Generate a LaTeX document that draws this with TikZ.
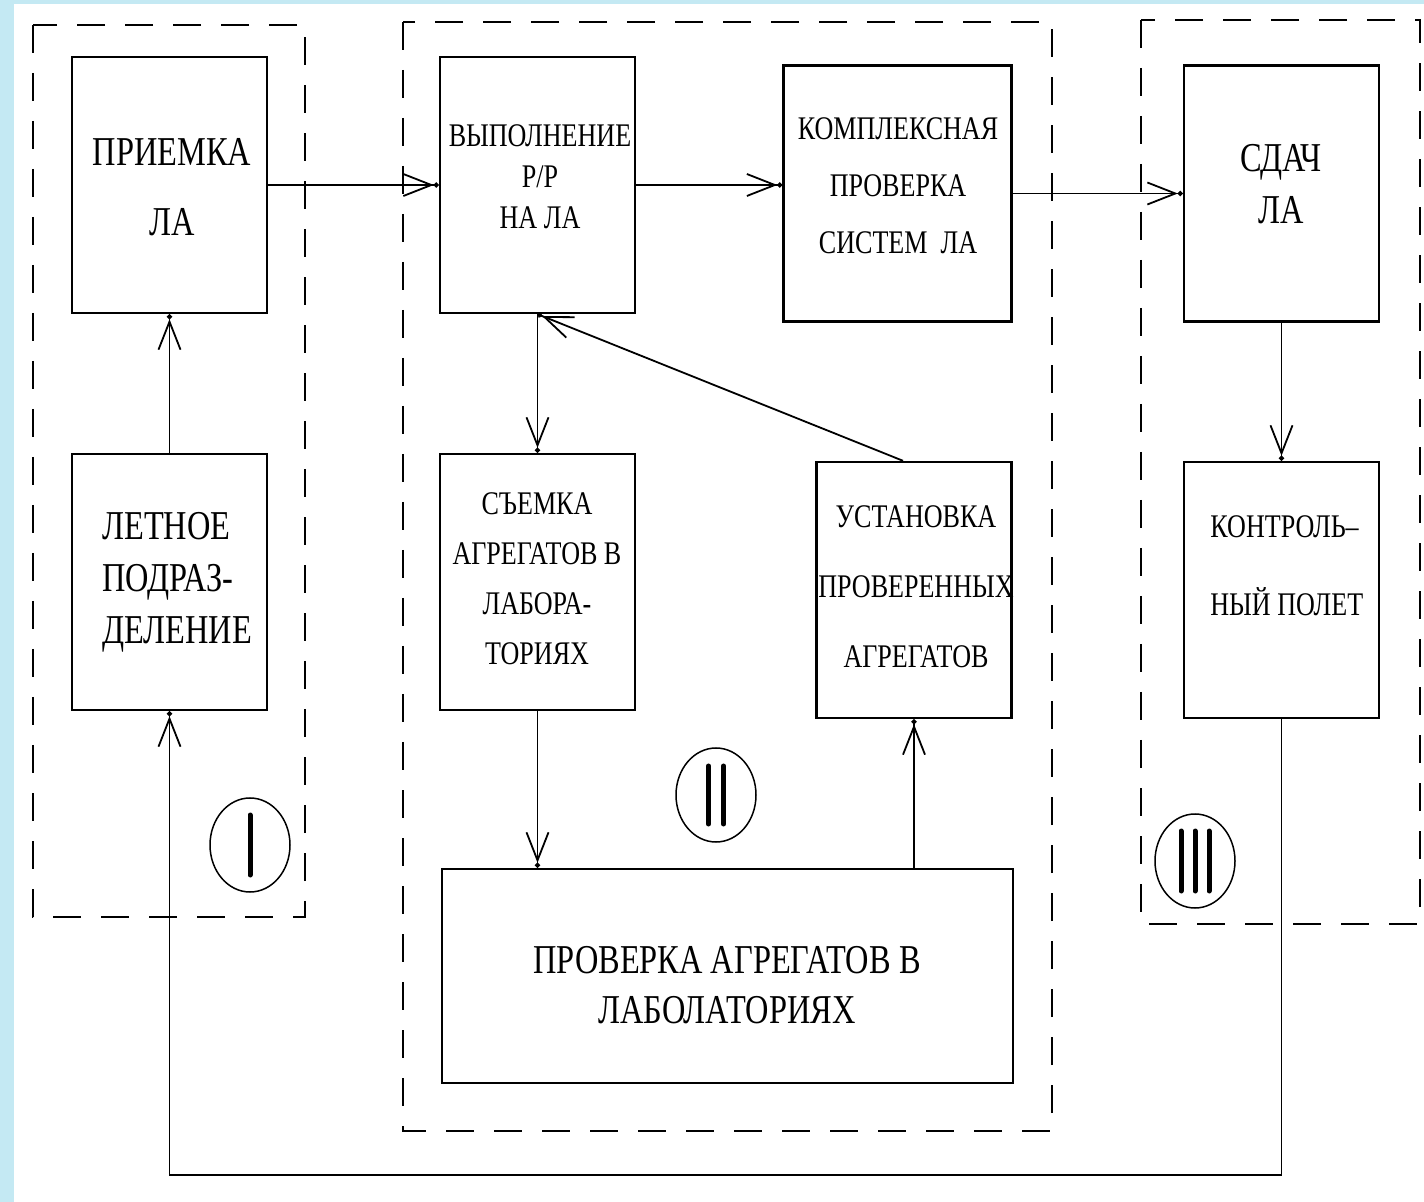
\documentclass[tikz,border=0pt]{standalone}
\usepackage{fontspec}
\setmainfont[FakeStretch=0.79]{Liberation Serif}
\usetikzlibrary{arrows.meta,shapes.geometric}

\definecolor{skyedge}{RGB}{196,233,243}

\tikzset{
    blockbox/.style={draw, line width=1.2pt, minimum width=97.5pt, minimum height=128pt, inner sep=0pt},
    bigtext/.style={align=center, inner sep=0pt, font=\fontsize{20.5}{#1}\selectfont},
    smalltext/.style={align=center, inner sep=0pt, font=\fontsize{16.5}{#1}\selectfont},
    groupline/.style={line width=1pt, dash pattern=on 14pt off 10pt},
    flow/.style={line width=0.9pt, -{Straight Barb[length=14pt,width=11pt] Circle[length=2.5pt]}},
    numring/.style={draw, ellipse, line width=0.75pt, minimum width=40pt, minimum height=47pt, inner sep=0pt},
    numbar/.style={line width=2.5pt, line cap=round}
}

\begin{document}
\begin{tikzpicture}[x=0.5pt,y=-0.5pt]

\useasboundingbox (0,0) rectangle (1424,1202);
\fill[skyedge] (0,0) rectangle (1424,1202);
\fill[white] (14,4) rectangle (1424,1202);

\draw[groupline] (33,25) rectangle (305,917);
\draw[groupline] (403,22) rectangle (1052,1131);
\draw[groupline] (1141,20) rectangle (1420,924);

\node[blockbox] (priemka) at (169.5,185) {};
\node[blockbox] (letnoe) at (169.5,582) {};
\node[blockbox] (vypoln) at (537.5,185) {};
\node[blockbox, minimum width=114pt] (kompleks) at (897.5,193.5) {};
\node[blockbox] (sdacha) at (1281.5,193.5) {};
\node[blockbox] (semka) at (537.5,582) {};
\node[blockbox] (ustanov) at (914,590) {};
\node[blockbox] (kontrol) at (1281.5,590) {};
\node[blockbox, minimum width=285.5pt, minimum height=107pt] (proverka) at (727.5,976) {};

\node[bigtext=35] (priemka-t) at (172,187) {ПРИЕМКА\\ЛА};
\node[bigtext=26, align=left, anchor=west] (letnoe-t) at (102,582) {ЛЕТНОЕ\\ПОДРАЗ-\\ДЕЛЕНИЕ};
\node[smalltext=20.5] (vypoln-t) at (540,177) {ВЫПОЛНЕНИЕ\\Р/Р\\НА ЛА};
\node[smalltext=28.5] (kompleks-t) at (898,186) {КОМПЛЕКСНАЯ\\ПРОВЕРКА\\СИСТЕМ\ \ ЛА};
\node[bigtext=26] (sdacha-t) at (1281,184) {СДАЧ\\ЛА};
\node[smalltext=25] (semka-t) at (537,579) {СЪЕМКА\\АГРЕГАТОВ В\\ЛАБОРА-\\ТОРИЯХ};
\node[smalltext=35] (ustanov-t) at (916,587) {УСТАНОВКА\\ПРОВЕРЕННЫХ\\АГРЕГАТОВ};
\node[smalltext=39, align=left, anchor=west] (kontrol-t) at (1210,566) {КОНТРОЛЬ–\\НЫЙ ПОЛЕТ};
\node[bigtext=25] (proverka-t) at (727,985) {ПРОВЕРКА АГРЕГАТОВ В\\ЛАБОЛАТОРИЯХ};

\draw[flow] (priemka) -- (vypoln);
\draw[flow] (vypoln.east) -- (vypoln.east -| kompleks.west);
\draw[flow] (kompleks) -- (sdacha);
\draw[flow] (letnoe) -- (priemka);
\draw[flow] (vypoln) -- (semka);
\draw[flow] ([xshift=-5.5pt]ustanov.north) -- (vypoln.south);
\draw[flow] (semka) -- (semka.south |- proverka.north);
\draw[flow] (ustanov.south |- proverka.north) -- (ustanov);
\draw[flow] (sdacha) -- (kontrol);
\coordinate (bend) at (169.5,1175);
\draw[flow] (kontrol.south) |- (bend) -- (letnoe.south);

\node[numring] (ring1) at (250,845) {};
\node[numring] (ring2) at (716,795) {};
\node[numring] (ring3) at (1195,861) {};
\draw[numbar] ([yshift=15pt]ring1.center) -- ([yshift=-15pt]ring1.center);
\foreach \barx in {-3.75pt, 3.75pt}
    \draw[numbar] ([xshift=\barx, yshift=14.5pt]ring2.center) -- ([xshift=\barx, yshift=-14.5pt]ring2.center);
\foreach \barx in {-7pt, 0pt, 7pt}
    \draw[numbar] ([xshift=\barx, yshift=15pt]ring3.center) -- ([xshift=\barx, yshift=-15pt]ring3.center);

\end{tikzpicture}
\end{document}
